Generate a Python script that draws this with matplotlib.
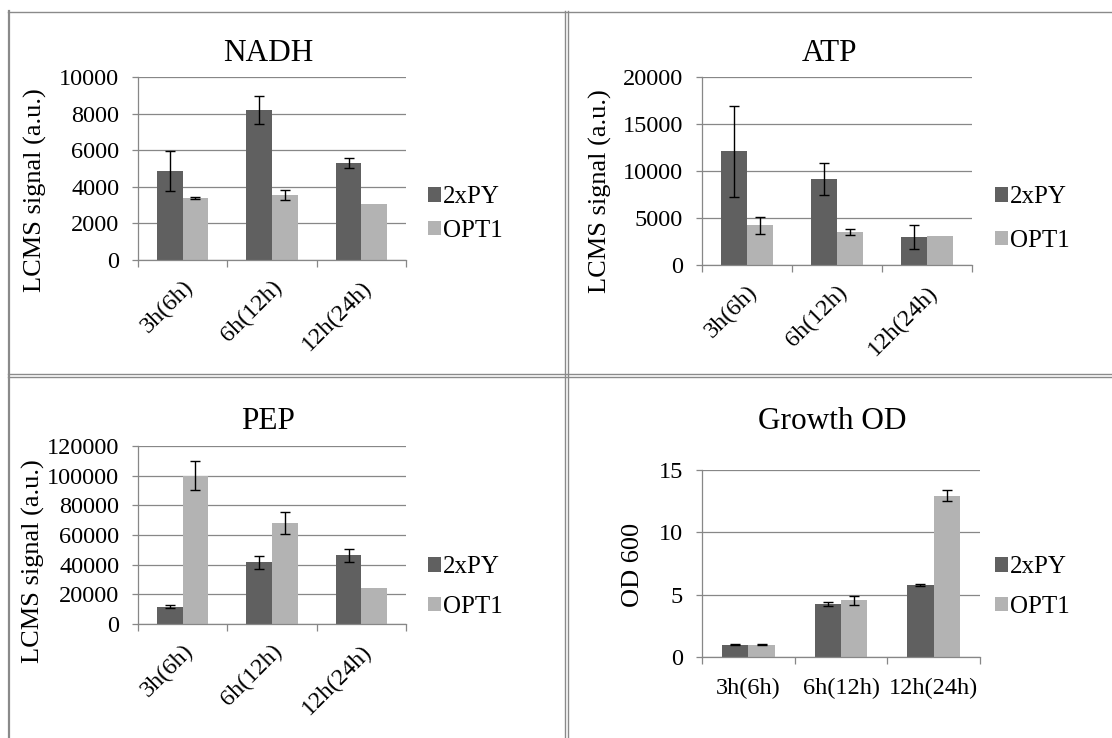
import numpy as np
import matplotlib
matplotlib.use('Agg')
from matplotlib import pyplot as plt
from matplotlib.lines import Line2D

plt.rcParams['font.family'] = ['Liberation Serif', 'DejaVu Serif']

categories = ['3h(6h)', '6h(12h)', '12h(24h)']
series = ['2xPY', 'OPT1']

nadh_2xpy = [4870, 8200, 5280]
nadh_2xpy_err = [1110, 780, 270]
nadh_opt1 = [3380, 3530, 3070]
nadh_opt1_err = [70, 275, np.nan]

atp_2xpy = [12080, 9130, 2980]
atp_2xpy_err = [4880, 1700, 1310]
atp_opt1 = [4230, 3520, 3090]
atp_opt1_err = [900, 280, np.nan]

pep_2xpy = [11700, 41500, 46400]
pep_2xpy_err = [1100, 4260, 4370]
pep_opt1 = [100000, 68000, 24000]
pep_opt1_err = [9750, 7500, np.nan]

od_2xpy = [1.0, 4.26, 5.8]
od_2xpy_err = [0.03, 0.13, 0.08]
od_opt1 = [1.0, 4.55, 12.95]
od_opt1_err = [0.03, 0.35, 0.47]

W, H = 1112, 738
dark = '#606060'
light = '#b3b3b3'
grid = '#878787'

fig = plt.figure(figsize=(W / 100, H / 100), dpi=100)


def px_axes(left, top, right, bottom):
    return fig.add_axes([left / W, 1 - bottom / H, (right - left) / W, (bottom - top) / H])


def panel(box, title, title_x, title_pad, ylabel, ylab_xy, yticks,
          a, a_err, b, b_err, rotate, leg_xy, leg_space):
    ax = px_axes(*box)
    x = np.arange(len(categories))
    w = 1 / 3.5
    ek = dict(ecolor='black', elinewidth=1.0, capsize=3.6, capthick=1.0)
    ax.bar(x - w / 2, a, w, yerr=a_err, color=dark, label=series[0], error_kw=ek, zorder=2)
    ax.bar(x + w / 2, b, w, yerr=b_err, color=light, label=series[1], error_kw=ek, zorder=2)

    ax.set_xlim(-0.5, len(categories) - 0.5)
    ax.set_ylim(yticks[0], yticks[-1])
    ax.set_yticks(yticks)
    ax.set_yticklabels([str(t) for t in yticks], fontsize=17.5)
    ax.yaxis.grid(True, color=grid, linewidth=0.9, zorder=0)
    ax.set_axisbelow(True)

    # category ticks sit on the group boundaries, labels at the centres
    ax.set_xticks(np.arange(len(categories) + 1) - 0.5)
    ax.set_xticklabels([])
    ax.set_xticks(x, minor=True)
    if rotate:
        ax.set_xticklabels(categories, minor=True, fontsize=17.5, rotation=45,
                           ha='right', va='top', rotation_mode='anchor')
        ax.tick_params(axis='x', which='minor', length=0, pad=12)
    else:
        ax.set_xticklabels(categories, minor=True, fontsize=17.5)
        ax.tick_params(axis='x', which='minor', length=0, pad=15)
    ax.tick_params(axis='x', which='major', length=5, color=grid, width=0.9)
    ax.tick_params(axis='y', length=4.5, color=grid, width=0.9, pad=9)

    for s in ['top', 'right']:
        ax.spines[s].set_visible(False)
    for s in ['left', 'bottom']:
        ax.spines[s].set_color(grid)
        ax.spines[s].set_linewidth(0.9)

    ax.set_title(title, fontsize=22.5, x=title_x, pad=title_pad)
    ax.set_ylabel(ylabel, fontsize=19, va='center', ha='center')
    ax.yaxis.set_label_coords(ylab_xy[0] / W, 1 - ylab_xy[1] / H, transform=fig.transFigure)

    ax.legend(loc='center left', bbox_to_anchor=(leg_xy[0] / W, 1 - leg_xy[1] / H),
              bbox_transform=fig.transFigure, frameon=False, fontsize=18,
              handlelength=0.5, handleheight=0.5, handletextpad=0.1,
              borderpad=0, borderaxespad=0, labelspacing=leg_space)
    return ax


panel((138, 77, 406, 260), 'NADH', 0.485, 11.5, 'LCMS signal (a.u.)', (35, 190),
      [0, 2000, 4000, 6000, 8000, 10000],
      nadh_2xpy, nadh_2xpy_err, nadh_opt1, nadh_opt1_err, True, (428, 214), 0.45)

panel((702, 77, 972, 265), 'ATP', 0.474, 11.5, 'LCMS signal (a.u.)', (600, 191),
      [0, 5000, 10000, 15000, 20000],
      atp_2xpy, atp_2xpy_err, atp_opt1, atp_opt1_err, True, (995, 219), 0.85)

panel((138, 446, 406, 624), 'PEP', 0.485, 12, 'LCMS signal (a.u.)', (33, 561),
      [0, 20000, 40000, 60000, 80000, 100000, 120000],
      pep_2xpy, pep_2xpy_err, pep_opt1, pep_opt1_err, True, (428, 587), 0.7)

panel((702, 470, 980, 657), 'Growth OD', 0.468, 29.5, 'OD 600', (633, 565),
      [0, 5, 10, 15],
      od_2xpy, od_2xpy_err, od_opt1, od_opt1_err, False, (995, 587), 0.7)

# table-style cell borders around the four charts
border = '#8a8a8a'


def fig_line(xs, ys, lw):
    fig.add_artist(Line2D([v / W for v in xs], [1 - v / H for v in ys],
                          color=border, linewidth=lw, transform=fig.transFigure))


fig_line([9, 9], [11, H], 1.6)
fig_line([8, W], [11.5, 11.5], 1.0)
fig_line([565, 565], [11, H], 1.0)
fig_line([567.8, 567.8], [11, H], 1.0)
fig_line([8, W], [373.7, 373.7], 1.0)
fig_line([8, W], [376.5, 376.5], 1.0)

fig.savefig('out.png', dpi=100, facecolor='white')
